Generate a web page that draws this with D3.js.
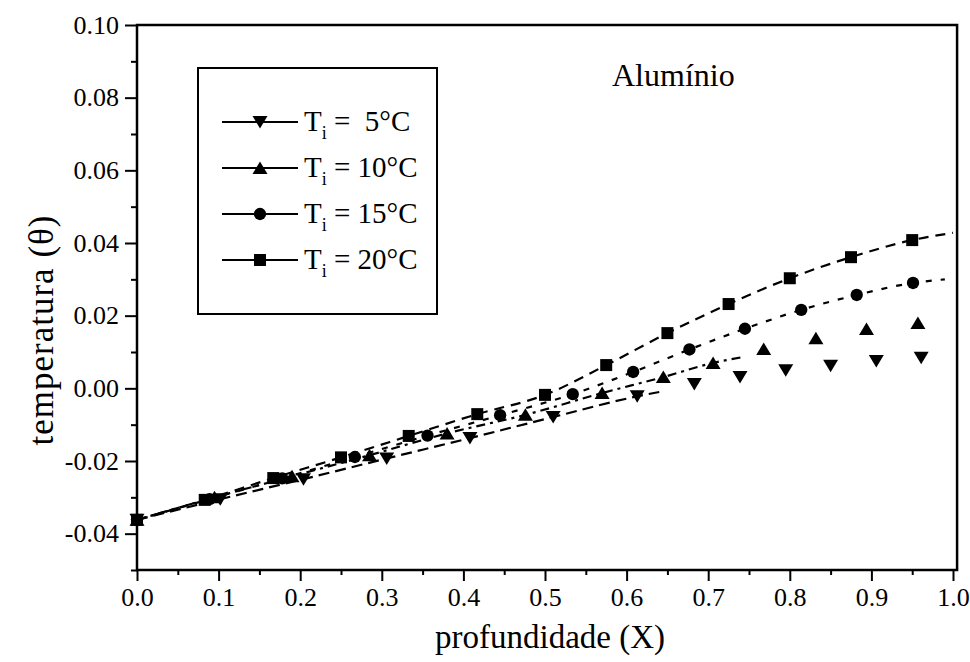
<!DOCTYPE html>
<html>
<head>
<meta charset="utf-8">
<script src="https://cdn.jsdelivr.net/npm/d3@7"></script>
<style>
  body { margin: 0; background: #fff; }
</style>
</head>
<body>
<svg id="chart" width="970" height="662"></svg>
<script>

// Values (x = profundidade, y = temperatura)
var x5 = [0, 0.102, 0.204, 0.306, 0.408, 0.510, 0.613, 0.683, 0.739, 0.795, 0.850, 0.906, 0.961];
var y5 = [-0.0362, -0.0305, -0.0250, -0.0193, -0.0137, -0.0079, -0.0022, 0.0012, 0.0031, 0.0050, 0.0062, 0.0075, 0.0084];

var x10 = [0, 0.095, 0.190, 0.285, 0.380, 0.476, 0.570, 0.645, 0.706, 0.768, 0.832, 0.894, 0.957];
var y10 = [-0.0362, -0.0300, -0.0242, -0.0184, -0.0124, -0.0073, -0.0013, 0.0031, 0.0070, 0.0108, 0.0138, 0.0163, 0.0180];

var x15 = [0, 0.089, 0.178, 0.267, 0.356, 0.445, 0.534, 0.608, 0.677, 0.745, 0.814, 0.882, 0.951];
var y15 = [-0.0362, -0.0305, -0.0248, -0.0189, -0.0130, -0.0074, -0.0016, 0.0045, 0.0107, 0.0164, 0.0216, 0.0257, 0.0290];

var x20 = [0, 0.083, 0.167, 0.250, 0.333, 0.417, 0.500, 0.575, 0.650, 0.725, 0.800, 0.875, 0.950];
var y20 = [-0.0362, -0.0307, -0.0247, -0.0190, -0.0131, -0.0071, -0.0018, 0.0064, 0.0152, 0.0232, 0.0303, 0.0361, 0.0408];

// where each fitted curve stops (last point of the dashed line)
var lineEnd5 = [0.640, -0.0010];
var lineEnd10 = [0.740, 0.0085];
var lineEnd15 = [0.990, 0.0300];
var lineEnd20 = [1.000, 0.0428];

var legendLabels = ["5", "10", "15", "20"];
var xTicks = [0, 0.1, 0.2, 0.3, 0.4, 0.5, 0.6, 0.7, 0.8, 0.9, 1.0];
var yTicks = [-0.04, -0.02, 0.00, 0.02, 0.04, 0.06, 0.08, 0.10];

var FONT = "Liberation Serif";

// Series list built from the arrays above
var series = [
    { name: legendLabels[0], xs: x5, ys: y5, end: lineEnd5, marker: "down", dash: "11,6" },
    { name: legendLabels[1], xs: x10, ys: y10, end: lineEnd10, marker: "up", dash: "9,5,3,5" },
    { name: legendLabels[2], xs: x15, ys: y15, end: lineEnd15, marker: "circle", dash: "6,9" },
    { name: legendLabels[3], xs: x20, ys: y20, end: lineEnd20, marker: "square", dash: "10,7" }
];

var svg = d3.select("#chart").attr("font-family", FONT);

var x = d3.scaleLinear().domain([0, 1]).range([137, 953]);
var y = d3.scaleLinear().domain([-0.05, 0.10]).range([570, 25]);

var loc = d3.formatLocale({ decimal: ".", thousands: ",", grouping: [3], currency: ["", ""], minus: "-" });

// marker paths, centred on the point
function markerPath(type) {
    if (type === "circle") return d3.symbol(d3.symbolCircle, 120)();
    if (type === "square") return "M-6,-6H6V6H-6Z";
    if (type === "up") return "M0,-6.5L7.5,6L-7.5,6Z";
    return "M0,6.5L7.5,-6L-7.5,-6Z";
}

// Fitted dashed curves
var line = d3.line()
    .x(function (d) { return x(d[0]); })
    .y(function (d) { return y(d[1]); })
    .curve(d3.curveMonotoneX);

series.forEach(function (s) {
    var pts = [];
    s.xs.forEach(function (v, i) { if (v < s.end[0]) pts.push([v, s.ys[i]]); });
    pts.push(s.end);
    svg.append("path")
        .attr("d", line(pts))
        .attr("fill", "none")
        .attr("stroke", "#000")
        .attr("stroke-width", 2.2)
        .attr("stroke-dasharray", s.dash);
});

// Markers
series.forEach(function (s) {
    svg.append("g").selectAll("path")
        .data(s.xs)
        .enter().append("path")
        .attr("d", markerPath(s.marker))
        .attr("transform", function (d, i) { return "translate(" + x(d) + "," + y(s.ys[i]) + ")"; })
        .attr("fill", "#000");
});

// Axes
var xAxis = d3.axisBottom(x).tickValues(xTicks).tickSize(11).tickPadding(7)
    .tickFormat(d3.format(".1f"));
var xMinor = d3.axisBottom(x).tickValues(d3.range(0.05, 1, 0.1)).tickSize(5).tickFormat("");
var yAxis = d3.axisLeft(y).tickValues(yTicks).tickSize(12).tickPadding(6)
    .tickFormat(loc.format(".2f"));
var yMinor = d3.axisLeft(y).tickValues([-0.05, -0.03, -0.01, 0.01, 0.03, 0.05, 0.07, 0.09]).tickSize(6).tickFormat("");

[xAxis, xMinor].forEach(function (a) {
    svg.append("g").attr("class", "axis").attr("transform", "translate(0,570)").call(a);
});
[yAxis, yMinor].forEach(function (a) {
    svg.append("g").attr("class", "axis").attr("transform", "translate(137,0)").call(a);
});

svg.selectAll(".axis").attr("font-family", FONT).attr("font-size", 26);
svg.selectAll(".axis .domain").remove();
svg.selectAll(".axis line").attr("stroke", "#000").attr("stroke-width", 2);
svg.selectAll(".axis text").attr("fill", "#000");

// Frame
svg.append("rect")
    .attr("x", x(0)).attr("y", y(0.10))
    .attr("width", x(1.005) - x(0)).attr("height", y(-0.05) - y(0.10))
    .attr("fill", "none").attr("stroke", "#000").attr("stroke-width", 2.5);

// Axis titles
svg.append("text")
    .attr("x", 550).attr("y", 648)
    .attr("text-anchor", "middle")
    .attr("font-size", 33)
    .text("profundidade (X)");

svg.append("text")
    .attr("transform", "translate(53,330) rotate(-90)")
    .attr("text-anchor", "middle")
    .attr("font-size", 35)
    .attr("letter-spacing", 1)
    .text("temperatura (\u03b8)");

svg.append("text")
    .attr("x", 612).attr("y", 86)
    .attr("font-size", 32)
    .text("Alum\u00ednio");

// Legend
var legend = svg.append("g");
legend.append("rect")
    .attr("x", 198).attr("y", 68).attr("width", 239).attr("height", 246)
    .attr("fill", "#fff").attr("stroke", "#000").attr("stroke-width", 2);

series.forEach(function (s, i) {
    var cy = 122 + i * 46;
    var row = legend.append("g");
    row.append("line")
        .attr("x1", 222).attr("x2", 298).attr("y1", cy).attr("y2", cy)
        .attr("stroke", "#000").attr("stroke-width", 2.2);
    row.append("path")
        .attr("d", markerPath(s.marker))
        .attr("transform", "translate(260," + cy + ")");
    var t = row.append("text")
        .attr("x", 304).attr("y", cy + 9)
        .attr("font-size", 29)
        .attr("xml:space", "preserve");
    t.append("tspan").text("T");
    t.append("tspan").attr("dy", 8).attr("font-size", 18).text("i");
    t.append("tspan").attr("dy", -8).text(s.name.length === 1 ? " =  " + s.name + "\u00b0C" : " = " + s.name + "\u00b0C");
});

</script>
</body>
</html>
